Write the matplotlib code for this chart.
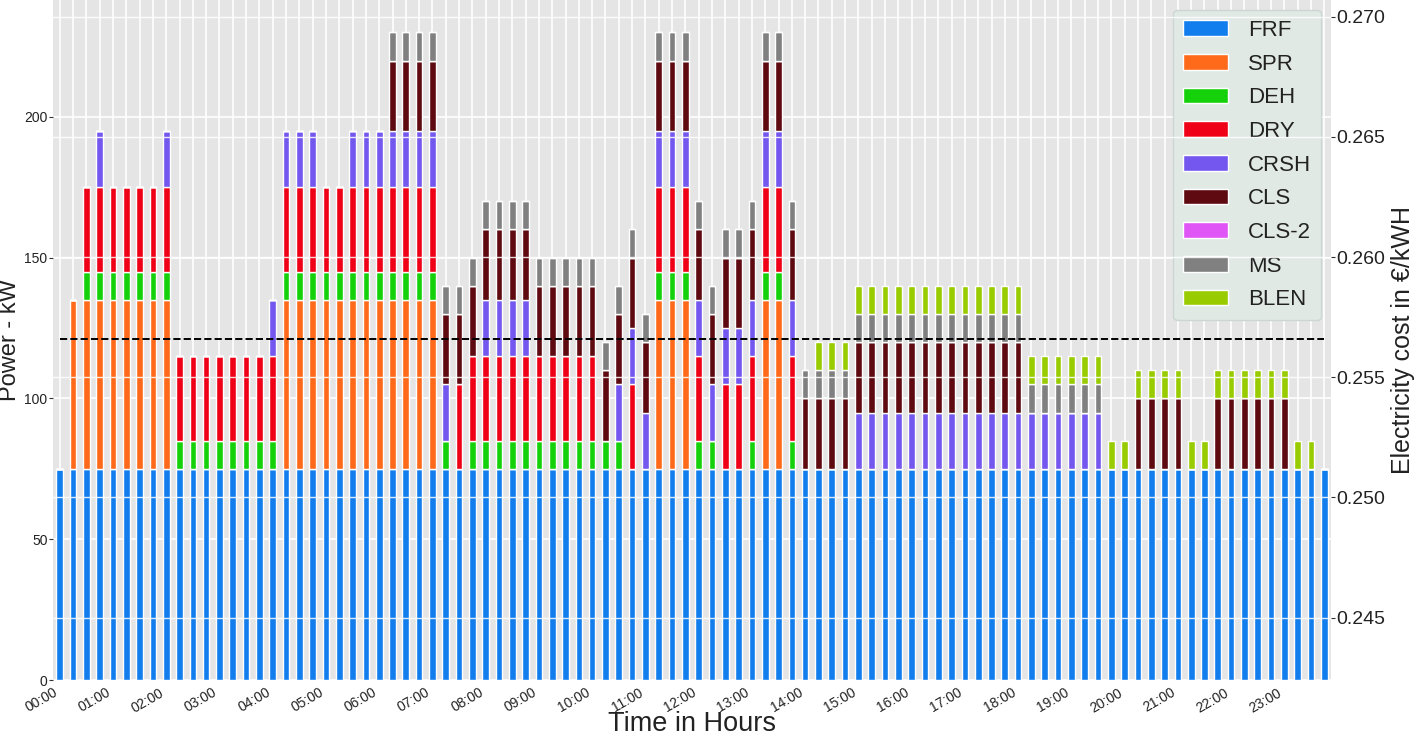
import matplotlib
matplotlib.use("Agg")
import matplotlib.pyplot as plt
import numpy as np

plt.style.use("ggplot")
plt.rcParams["font.family"] = ["Liberation Sans", "DejaVu Sans"]

# ---------------- data (kW per 15-min slot, 96 slots) ----------------
hour_labels = ["%02d:00" % h for h in range(24)]

FRF = [75] * 96
SPR = [0, 60, 60, 60, 60, 60, 60, 60, 60, 0, 0, 0, 0, 0, 0, 0,
       0, 60, 60, 60, 60, 60, 60, 60, 60, 60, 60, 60, 60, 0, 0, 0,
       0, 0, 0, 0, 0, 0, 0, 0, 0, 0, 0, 0, 0, 60, 60, 60,
       0, 0, 0, 0, 0, 60, 60, 0, 0, 0, 0, 0, 0, 0, 0, 0,
       0, 0, 0, 0, 0, 0, 0, 0, 0, 0, 0, 0, 0, 0, 0, 0,
       0, 0, 0, 0, 0, 0, 0, 0, 0, 0, 0, 0, 0, 0, 0, 0]
DEH = [0, 0, 10, 10, 10, 10, 10, 10, 10, 10, 10, 10, 10, 10, 10, 10,
       10, 10, 10, 10, 10, 10, 10, 10, 10, 10, 10, 10, 10, 10, 0, 10,
       10, 10, 10, 10, 10, 10, 10, 10, 10, 10, 10, 0, 0, 10, 10, 10,
       10, 10, 0, 0, 10, 10, 10, 10, 0, 0, 0, 0, 0, 0, 0, 0,
       0, 0, 0, 0, 0, 0, 0, 0, 0, 0, 0, 0, 0, 0, 0, 0,
       0, 0, 0, 0, 0, 0, 0, 0, 0, 0, 0, 0, 0, 0, 0, 0]
DRY = [0, 0, 30, 30, 30, 30, 30, 30, 30, 30, 30, 30, 30, 30, 30, 30,
       30, 30, 30, 30, 30, 30, 30, 30, 30, 30, 30, 30, 30, 0, 30, 30,
       30, 30, 30, 30, 30, 30, 30, 30, 30, 0, 0, 30, 0, 30, 30, 30,
       30, 0, 30, 30, 30, 30, 30, 30, 0, 0, 0, 0, 0, 0, 0, 0,
       0, 0, 0, 0, 0, 0, 0, 0, 0, 0, 0, 0, 0, 0, 0, 0,
       0, 0, 0, 0, 0, 0, 0, 0, 0, 0, 0, 0, 0, 0, 0, 0]
CRSH = [0, 0, 0, 20, 0, 0, 0, 0, 20, 0, 0, 0, 0, 0, 0, 0,
        20, 20, 20, 20, 0, 0, 20, 20, 20, 20, 20, 20, 20, 20, 0, 0,
        20, 20, 20, 20, 0, 0, 0, 0, 0, 0, 20, 20, 20, 20, 20, 20,
        20, 20, 20, 20, 20, 20, 20, 20, 0, 0, 0, 0, 20, 20, 20, 20,
        20, 20, 20, 20, 20, 20, 20, 20, 20, 20, 20, 20, 20, 20, 20, 0,
        0, 0, 0, 0, 0, 0, 0, 0, 0, 0, 0, 0, 0, 0, 0, 0]
CLS = [0, 0, 0, 0, 0, 0, 0, 0, 0, 0, 0, 0, 0, 0, 0, 0,
       0, 0, 0, 0, 0, 0, 0, 0, 0, 25, 25, 25, 25, 25, 25, 25,
       25, 25, 25, 25, 25, 25, 25, 25, 25, 25, 25, 25, 25, 25, 25, 25,
       25, 25, 25, 25, 25, 25, 25, 25, 25, 25, 25, 25, 25, 25, 25, 25,
       25, 25, 25, 25, 25, 25, 25, 25, 25, 0, 0, 0, 0, 0, 0, 0,
       0, 25, 25, 25, 25, 0, 0, 25, 25, 25, 25, 25, 25, 0, 0, 0]
CLS2 = [0] * 96
MS = [0, 0, 0, 0, 0, 0, 0, 0, 0, 0, 0, 0, 0, 0, 0, 0,
      0, 0, 0, 0, 0, 0, 0, 0, 0, 10, 10, 10, 10, 10, 10, 10,
      10, 10, 10, 10, 10, 10, 10, 10, 10, 10, 10, 10, 10, 10, 10, 10,
      10, 10, 10, 10, 10, 10, 10, 10, 10, 10, 10, 10, 10, 10, 10, 10,
      10, 10, 10, 10, 10, 10, 10, 10, 10, 10, 10, 10, 10, 10, 10, 0,
      0, 0, 0, 0, 0, 0, 0, 0, 0, 0, 0, 0, 0, 0, 0, 0]
BLEN = [0, 0, 0, 0, 0, 0, 0, 0, 0, 0, 0, 0, 0, 0, 0, 0,
        0, 0, 0, 0, 0, 0, 0, 0, 0, 0, 0, 0, 0, 0, 0, 0,
        0, 0, 0, 0, 0, 0, 0, 0, 0, 0, 0, 0, 0, 0, 0, 0,
        0, 0, 0, 0, 0, 0, 0, 0, 0, 10, 10, 10, 10, 10, 10, 10,
        10, 10, 10, 10, 10, 10, 10, 10, 10, 10, 10, 10, 10, 10, 10, 10,
        10, 10, 10, 10, 10, 10, 10, 10, 10, 10, 10, 10, 10, 10, 10, 0]
COST = [0.2566] * 96

series_names = ["FRF", "SPR", "DEH", "DRY", "CRSH", "CLS", "CLS-2", "MS", "BLEN"]
series_vals = [FRF, SPR, DEH, DRY, CRSH, CLS, CLS2, MS, BLEN]
series_colors = ["#127EEE", "#FF6A1A", "#14D10A", "#F00016", "#7457EE",
                 "#5E0A10", "#E055F5", "#808080", "#98CC00"]

# ---------------- figure ----------------
fig = plt.figure(figsize=(14.15, 7.39), dpi=100)
ax = fig.add_axes([0.0375, 0.0798, 0.9031, 0.9202])
ax.set_facecolor("#E5E5E5")
ax.grid(True, color="white", linewidth=1.2)
ax.set_axisbelow(True)

x = np.arange(len(FRF))
bottom = np.zeros(len(FRF))
for name, vals, col in zip(series_names, series_vals, series_colors):
    v = np.array(vals, dtype=float)
    ax.bar(x, v, width=0.5, bottom=bottom, color=col, edgecolor="white",
           linewidth=1.0, label=name, zorder=2)
    bottom += v

ax.set_xlim(-0.5, len(FRF) - 0.5)
ax.set_ylim(0, 241.5)
ax.set_xticks(x)
ax.set_xticklabels([hour_labels[i // 4] if i % 4 == 0 else "" for i in x],
                   rotation=30, ha="right", fontsize=10, color="#222222")
ax.tick_params(axis="x", length=0, pad=4)
ax.set_yticks([0, 50, 100, 150, 200])
ax.tick_params(axis="y", length=3, color="#333333", labelsize=10,
               labelcolor="#222222", pad=1)
ax.set_ylabel("Power - kW", fontsize=17, color="#222222", labelpad=2)
ax.set_xlabel("Time in Hours", fontsize=19.5, color="#222222", labelpad=-3)
for s in ax.spines.values():
    s.set_visible(False)

leg = ax.legend(loc="upper right", fontsize=16, borderaxespad=0.45,
                labelspacing=0.57, handletextpad=0.9, handlelength=2.0,
                borderpad=0.45, facecolor="#E1E9E5", edgecolor="#CBD7D1",
                framealpha=1.0)
leg.get_frame().set_linewidth(1.0)
for t in leg.get_texts():
    t.set_color("#222222")

ax2 = ax.twinx()
ax2.plot(x, COST, linestyle="--", color="black", linewidth=1.4)
ax2.set_ylim(0.2424, 0.2707)
ax2.set_yticks([0.245, 0.250, 0.255, 0.260, 0.265, 0.270])
ax2.set_yticklabels(["0.245", "0.250", "0.255", "0.260", "0.265", "0.270"])
ax2.grid(True, axis="y", color="white", linewidth=1.0, alpha=0.85)
ax2.tick_params(axis="y", length=3, color="#333333", labelsize=14,
                labelcolor="#222222", pad=1)
ax2.set_ylabel("Electricity cost in €/kWH", fontsize=18, color="#222222",
               labelpad=4)
for s in ax2.spines.values():
    s.set_visible(False)

fig.savefig("out.png", dpi=100)
